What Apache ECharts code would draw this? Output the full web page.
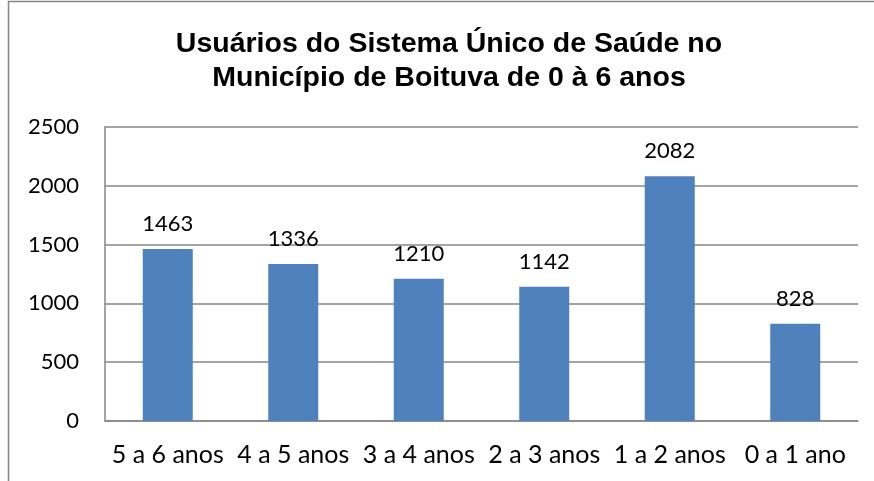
<!DOCTYPE html>
<html>
<head>
<meta charset="utf-8">
<script src="https://cdn.jsdelivr.net/npm/echarts@6/dist/echarts.min.js"></script>
<style>
html,body{margin:0;padding:0;background:#fff;}
#chart{width:874px;height:481px;}
</style>
</head>
<body>
<div id="chart"></div>
<script>
const titleText = "Usuários do Sistema Único de Saúde no\nMunicípio de Boituva de 0 à 6 anos";
const categories = ["5 a 6 anos", "4 a 5 anos", "3 a 4 anos", "2 a 3 anos", "1 a 2 anos", "0 a 1 ano"];
const values = [1463, 1336, 1210, 1142, 2082, 828];
const yTicks = { min: 0, max: 2500, interval: 500 };

const chart = echarts.init(document.getElementById('chart'), null, { renderer: 'canvas' });
const gray = '#868686';
const labelFont = 'Lato';
chart.setOption({
  animation: false,
  backgroundColor: '#ffffff',
  title: {
    text: titleText,
    left: 444,
    top: 22,
    textAlign: 'center',
    textStyle: {
      fontFamily: 'Liberation Sans',
      fontWeight: 'bold',
      fontSize: 28.5,
      lineHeight: 34,
      color: '#000'
    }
  },
  graphic: [{
    type: 'rect',
    shape: { x: 8.5, y: 1.5, width: 1000, height: 1000 },
    style: { fill: 'none', stroke: gray, lineWidth: 1.5 },
    silent: true
  }],
  grid: { left: 105, right: 16, top: 127, bottom: 60 },
  xAxis: {
    type: 'category',
    data: categories,
    axisLine: { show: true, lineStyle: { color: gray, width: 1.5 } },
    axisTick: { show: false },
    axisLabel: {
      interval: 0,
      color: '#000', fontFamily: labelFont, fontSize: 25, lineHeight: 25, margin: 21
    }
  },
  yAxis: {
    type: 'value',
    min: yTicks.min, max: yTicks.max, interval: yTicks.interval,
    axisLine: { show: true, lineStyle: { color: gray, width: 1.5 } },
    axisTick: { show: false },
    splitLine: { show: true, lineStyle: { color: gray, width: 1.5 } },
    axisLabel: {
      color: '#000', fontFamily: labelFont, fontSize: 22, margin: 26,
      formatter: function (v) { return String(v); }
    }
  },
  series: [{
    type: 'bar',
    data: values,
    barWidth: 50,
    itemStyle: { color: '#4F81BD' },
    label: {
      show: true,
      position: 'top',
      distance: 14,
      color: '#000',
      fontFamily: labelFont,
      fontSize: 22
    }
  }]
});
</script>
</body>
</html>
